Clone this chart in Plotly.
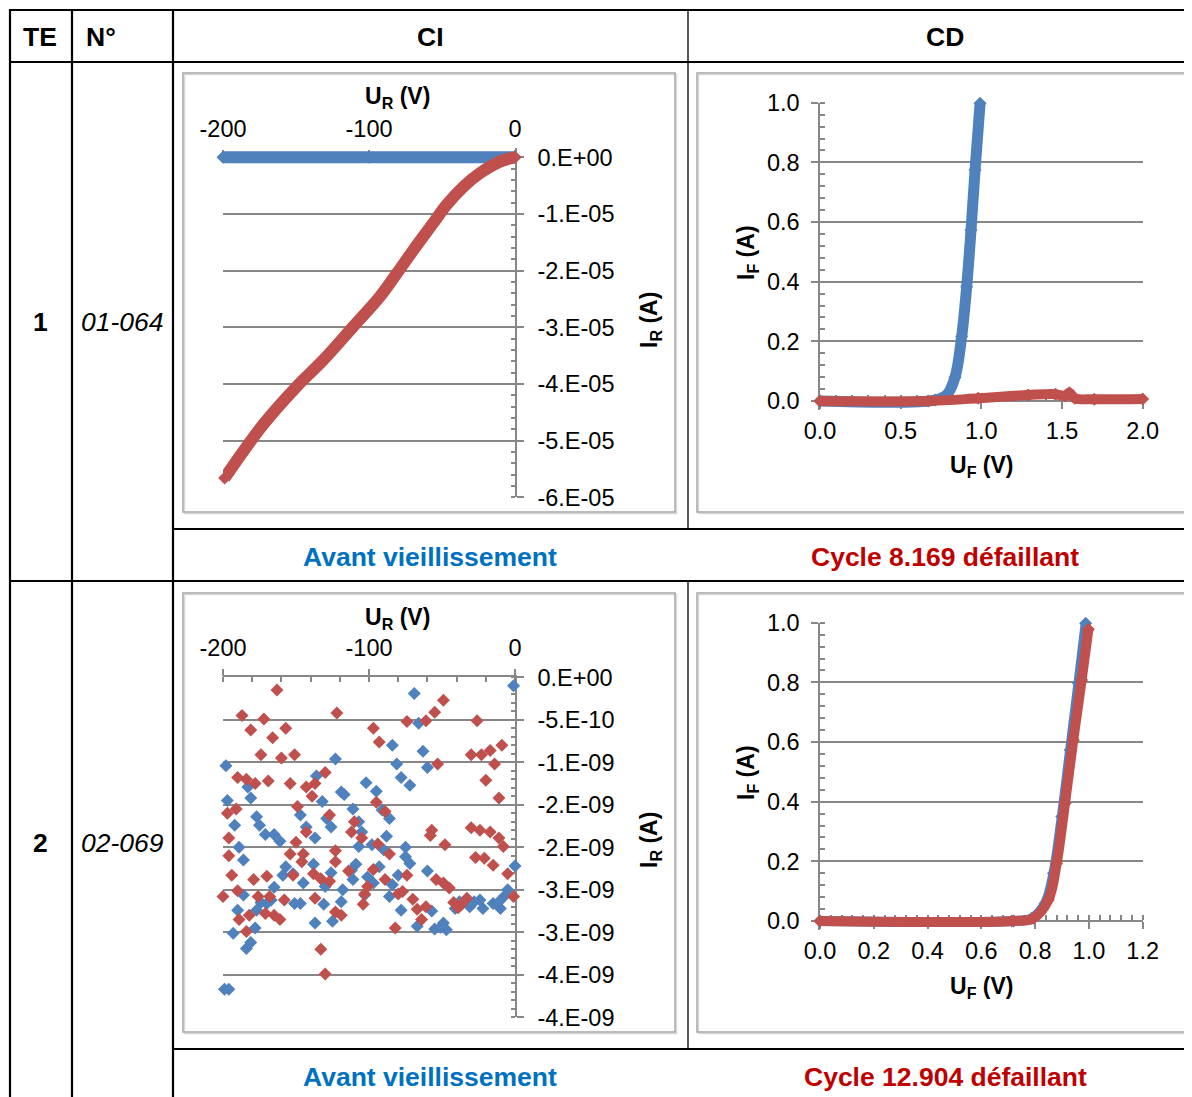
import numpy as np
import plotly.graph_objects as go

# page offset (body margin) compensation: the figure is placed 8 px from the window edge
OFF = 8
W, H = 1192 - OFF, 1097 - OFF
FONT = "Arial, Liberation Sans, sans-serif"
BLUE = "#4F81BD"
RED = "#C0504D"
GRID = "#878787"
CAP_BLUE = "#0070C0"
CAP_RED = "#C00000"

# ---------------- data ----------------
# TE 1 / 01-064, CI (reverse characteristic), current in microamps
ci1_before_u = [-200, -100, 0]
ci1_before_i_uA = [0, 0, 0]
ci1_after_u = [0, -10.3, -24, -35.4, -46.9, -56, -69.7, -81, -92.6, -110.9, -131.4, -149.7, -172.6, -198.9]
ci1_after_i_uA = [0, -0.76, -2.8, -5.2, -8.4, -11.6, -16.4, -20.5, -24.6, -29.9, -35.8, -40.5, -47.2, -56.6]
ci1_ytick_uA = [0, -10, -20, -30, -40, -50, -60]
ci1_ytick_text = ["0.E+00", "-1.E-05", "-2.E-05", "-3.E-05", "-4.E-05", "-5.E-05", "-6.E-05"]
ci_xtick_vals = [-200, -100, 0]
ci_xtick_text = ["-200", "-100", "0"]

# TE 1, CD (forward characteristic)
cd1_before_u = [0, 0.713, 0.785, 0.837, 0.878, 0.909, 0.936, 0.961, 0.992]
cd1_before_i = [0, 0.003, 0.02, 0.08, 0.216, 0.383, 0.573, 0.774, 0.998]
cd1_after_u = [0, 0.67, 0.98, 1.29, 1.46, 1.52, 1.545, 1.58, 1.70, 2.0]
cd1_after_i = [0, 0, 0.009, 0.02, 0.023, 0.017, 0.028, 0.009, 0.006, 0.007]

# TE 2 / 02-069, CI, current in nanoamps
ci2_before_u = [-1, -69, -66, -84, -63, -123, -198, -81, -60, -78, -72, -102, -95, -119, -117,
                -136, -183, -181, -132, -197, -111, -91, -86, -147, -177, -192, -129, -126, -143,
                -175, -171, -165, -161, -107, -105, -107, -98, -88, -75, -137, -189, -186, -90,
                -75, -72, -157, -159, -138, -109, -112, -126, -152, -93, -101, -80, -60, 0, -145,
                -111, -84, -165, -118, -130, -97, -103, -86, -5, -7, -186, -167, -170, -151, -147,
                -131, -119, -190, -177, -174, -78, -57, -41, -38, -31, -24, -22, -15, -10, -11,
                -39, -28, -125, -137, -67, -55, -49, -47, -51, -178, -193, -184, -181, -199, -196]
ci2_before_i_nA = [-0.10, -0.19, -0.54, -0.80, -0.87, -0.96, -1.04, -1.02, -1.06, -1.18, -1.27,
                   -1.24, -1.34, -1.35, -1.38, -1.16, -1.29, -1.42, -1.46, -1.45, -1.55, -1.56,
                   -1.66, -1.62, -1.64, -1.74, -1.66, -1.76, -1.76, -1.74, -1.85, -1.85, -1.93,
                   -1.70, -1.82, -1.99, -1.97, -1.87, -2.00, -1.89, -2.00, -2.15, -2.03, -2.11,
                   -2.19, -2.23, -2.33, -2.20, -2.20, -2.27, -2.30, -2.31, -2.23, -2.35, -2.33,
                   -2.28, -2.22, -2.42, -2.38, -2.44, -2.47, -2.50, -2.46, -2.42, -2.56, -2.58,
                   -2.50, -2.57, -2.56, -2.62, -2.66, -2.66, -2.66, -2.67, -2.64, -2.74, -2.74,
                   -2.65, -2.74, -2.75, -2.72, -2.64, -2.70, -2.62, -2.72, -2.66, -2.72, -2.64,
                   -2.68, -2.64, -2.87, -2.89, -2.93, -2.96, -2.89, -2.97, -2.94, -2.95, -3.01,
                   -3.19, -3.12, -3.67, -3.67]
ci2_after_u = [-163, -49, -122, -55, -61, -74, -187, -172, -181, -157, -97, -26, -166, -93, -9,
               -174, -160, -151, -30, -23, -17, -53, -14, -190, -184, -178, -169, -154, -143,
               -137, -130, -139, -20, -11, -95, -89, -197, -191, -149, -127, -110, -57, -58, -30,
               -24, -17, -11, -8, -112, -105, -143, -150, -196, -94, -48, -123, -145, -154, -196,
               -86, -27, -21, -15, -123, -146, -97, -114, -138, -152, -194, -170, -74, -5, -179,
               -133, -127, -89, -54, -49, -45, -101, -190, -103, -200, -176, -168, -158, -137,
               -80, -77, -70, -104, -42, -39, -33, -37, -1, -171, -165, -161, -189, -182, -123,
               -119, -184, -67, -61, -64, -82, -133, -130]
ci2_after_i_nA = [-0.15, -0.27, -0.42, -0.41, -0.51, -0.52, -0.45, -0.49, -0.62, -0.60, -0.60,
                  -0.51, -0.71, -0.76, -0.80, -0.91, -0.95, -0.91, -0.91, -0.91, -0.86, -1.02,
                  -1.02, -1.18, -1.20, -1.25, -1.22, -1.25, -1.29, -1.25, -1.12, -1.40, -1.21,
                  -1.42, -1.47, -1.58, -1.60, -1.55, -1.52, -1.62, -1.70, -1.80, -1.86, -1.77,
                  -1.80, -1.82, -1.89, -1.99, -1.82, -1.89, -1.82, -1.94, -1.89, -1.96, -1.97,
                  -2.04, -2.08, -2.08, -2.10, -2.08, -2.12, -2.13, -2.21, -2.17, -2.17, -2.26,
                  -2.28, -2.31, -2.33, -2.33, -2.34, -2.33, -2.31, -2.38, -2.37, -2.40, -2.38,
                  -2.38, -2.42, -2.48, -2.46, -2.51, -2.55, -2.58, -2.58, -2.58, -2.62, -2.60,
                  -2.55, -2.52, -2.61, -2.67, -2.65, -2.71, -2.60, -2.68, -2.58, -2.78, -2.80,
                  -2.85, -2.85, -2.80, -2.76, -2.80, -2.99, -2.73, -2.70, -2.85, -2.95, -3.20,
                  -3.49]
ci2_ytick_nA = [0, -0.5, -1.0, -1.5, -2.0, -2.5, -3.0, -3.5, -4.0]
ci2_ytick_text = ["0.E+00", "-5.E-10", "-1.E-09", "-2.E-09", "-2.E-09", "-3.E-09", "-3.E-09",
                  "-4.E-09", "-4.E-09"]

# TE 2, CD
cd2_before_u = [0, 0.713, 0.787, 0.837, 0.868, 0.899, 0.93, 0.961, 0.988]
cd2_before_i = [0, 0, 0.009, 0.059, 0.16, 0.35, 0.573, 0.797, 0.998]
cd2_after_u = [0, 0.72, 0.793, 0.849, 0.88, 0.911, 0.942, 0.973, 0.998]
cd2_after_i = [0, 0, 0.009, 0.07, 0.193, 0.394, 0.607, 0.808, 0.978]

# table text
header_labels = ["TE", "N°", "CI", "CD"]
te_numbers = ["1", "2"]
te_refs = ["01-064", "02-069"]
captions_before = ["Avant vieillissement", "Avant vieillissement"]
captions_after = ["Cycle 8.169 défaillant", "Cycle 12.904 défaillant"]

# ---------------- helpers (window pixel -> paper) ----------------
def px(p):
    return (p - OFF) / W


def py(p):
    return 1 - (p - OFF) / H


def ygeom(v_top, p_top, v_bot, p_bot, pad_top=0, pad_bot=0):
    s = (v_top - v_bot) / (p_bot - p_top)
    rng = [v_bot - pad_bot * s, v_top + pad_top * s]
    dom = [py(p_bot + pad_bot), py(p_top - pad_top)]
    return rng, dom


TICK_SIZE = 23.5
tickfont = dict(family=FONT, size=TICK_SIZE, color="black")
base_axis = dict(showline=True, linecolor=GRID, linewidth=1.5, zeroline=False,
                 tickfont=tickfont, ticks="outside", ticklen=7, tickcolor=GRID, tickwidth=1.5,
                 layer="below traces", fixedrange=True, automargin=False)


def curve(x, y, color, xa, ya, width=10):
    return go.Scatter(x=x, y=y, mode="lines+markers",
                      line=dict(color=color, width=width, shape="spline", smoothing=1.0),
                      marker=dict(symbol="diamond", size=10, color=color),
                      cliponaxis=False, xaxis=xa, yaxis=ya, hoverinfo="skip", showlegend=False)


def dots(x, y, color, xa, ya):
    return go.Scatter(x=x, y=y, mode="markers",
                      marker=dict(symbol="diamond", size=10, color=color, line=dict(width=0)),
                      cliponaxis=False, xaxis=xa, yaxis=ya, hoverinfo="skip", showlegend=False)


fig = go.Figure()

# CI1
ci1_i_before = np.array(ci1_before_i_uA) * 1e-6
ci1_i_after = np.array(ci1_after_i_uA) * 1e-6
fig.add_trace(curve(ci1_before_u, ci1_i_before, BLUE, "x", "y", width=12))
fig.add_trace(curve(ci1_after_u, ci1_i_after, RED, "x", "y", width=12))
# CD1
fig.add_trace(curve(cd1_before_u, cd1_before_i, BLUE, "x2", "y2", width=11))
fig.add_trace(curve(cd1_after_u, cd1_after_i, RED, "x2", "y2"))
# CI2
fig.add_trace(dots(ci2_before_u, np.array(ci2_before_i_nA) * 1e-9, BLUE, "x3", "y3"))
fig.add_trace(dots(ci2_after_u, np.array(ci2_after_i_nA) * 1e-9, RED, "x3", "y3"))
# CD2
fig.add_trace(curve(cd2_before_u, cd2_before_i, BLUE, "x4", "y4"))
fig.add_trace(curve(cd2_after_u, cd2_after_i, RED, "x4", "y4"))

ci_xdom = [px(223), px(515)]
cd_xdom = [px(820), px(1142.7)]

ci1_yr, ci1_yd = ygeom(0, 157.3, -60e-6, 497.3, pad_top=9)
cd1_yr, cd1_yd = ygeom(1.0, 102.7, 0, 401, pad_bot=9)
ci2_yr, ci2_yd = ygeom(0, 677.3, -4e-9, 1017.3)
cd2_yr, cd2_yd = ygeom(1.0, 622.7, 0, 921, pad_bot=9)


def ci_x(anchor, pos=None):
    d = dict(base_axis, domain=ci_xdom, range=[-200, 0], side="top", tickmode="array",
             tickvals=ci_xtick_vals, ticktext=ci_xtick_text, showgrid=False, ticklabelstandoff=3,
             minor=dict(tickmode="linear", tick0=0, dtick=20, ticks="inside", ticklen=5,
                        tickcolor=GRID, showgrid=False))
    if pos is None:
        d["anchor"] = anchor
    else:
        d["anchor"] = "free"
        d["position"] = pos
    return d


def ci_y(anchor, rng, dom, vals, text, minor_dt):
    return dict(base_axis, anchor=anchor, domain=dom, range=rng, side="right",
                tickmode="array", tickvals=vals, ticktext=text, showgrid=True,
                gridcolor=GRID, gridwidth=1.5, ticklabelstandoff=9,
                minor=dict(tickmode="linear", tick0=0, dtick=minor_dt, ticks="inside",
                           ticklen=4, tickcolor=GRID, showgrid=False))


def cd_x(pos, rmax, dt, minor_dt):
    return dict(base_axis, anchor="free", position=pos, domain=cd_xdom, range=[0, rmax],
                side="bottom", tickmode="linear", tick0=0, dtick=dt, tickformat=".1f",
                showgrid=False, ticklabelstandoff=2,
                minor=dict(tick0=0, dtick=minor_dt, ticks="inside", ticklen=5, tickcolor=GRID,
                           showgrid=False))


def cd_y(anchor, rng, dom):
    return dict(base_axis, anchor=anchor, domain=dom, range=rng, side="left",
                tickmode="linear", tick0=0, dtick=0.2, tickformat=".1f", showgrid=True,
                gridcolor=GRID, gridwidth=1.5, ticklabelstandoff=7,
                minor=dict(tick0=0, dtick=0.04, ticks="inside", ticklen=5, tickcolor=GRID,
                           showgrid=False))


fig.update_layout(
    width=W, height=H, margin=dict(l=0, r=0, t=0, b=0, pad=0, autoexpand=False),
    autosize=False,
    paper_bgcolor="white", plot_bgcolor="rgba(0,0,0,0)", showlegend=False,
    font=dict(family=FONT, color="black"),
    xaxis=ci_x("y", pos=py(157.3)),
    yaxis=ci_y("x", ci1_yr, ci1_yd, list(np.array(ci1_ytick_uA) * 1e-6), ci1_ytick_text, 2e-6),
    xaxis2=cd_x(py(401), 2.0, 0.5, 0.1),
    yaxis2=cd_y("x2", cd1_yr, cd1_yd),
    xaxis3=ci_x("y3"),
    yaxis3=ci_y("x3", ci2_yr, ci2_yd, list(np.array(ci2_ytick_nA) * 1e-9), ci2_ytick_text, 1e-10),
    xaxis4=cd_x(py(921), 1.2, 0.2, 0.04),
    yaxis4=cd_y("x4", cd2_yr, cd2_yd),
)

# ---------------- table shapes ----------------
shapes = []


def hline(y, x0, x1, w=2.2):
    shapes.append(dict(type="line", xref="paper", yref="paper", x0=px(x0), x1=px(x1),
                       y0=py(y), y1=py(y), line=dict(color="black", width=w)))


def vline(x, y0, y1, w=2.2):
    shapes.append(dict(type="line", xref="paper", yref="paper", x0=px(x), x1=px(x),
                       y0=py(y0), y1=py(y1), line=dict(color="black", width=w)))


hline(10, 9, 1192)
hline(62, 9, 1192)
hline(529, 173, 1192)
hline(581, 9, 1192)
hline(1049, 173, 1192)
vline(10, 9, 1097)
vline(72, 9, 1097)
vline(173, 9, 1097)
vline(688, 9, 529, w=1.3)
vline(688, 581, 1049, w=1.3)

for (x0, y0, x1, y1) in [(183, 73, 675, 512), (697, 73, 1189, 512),
                         (183, 593, 675, 1032), (697, 593, 1189, 1032)]:
    shapes.append(dict(type="rect", xref="paper", yref="paper", x0=px(x0 + 1.5), x1=px(x1 + 1.5),
                       y0=py(y0 + 1.5), y1=py(y1 + 1.5), line=dict(color="#D9D9D9", width=1.5),
                       layer="below"))
    shapes.append(dict(type="rect", xref="paper", yref="paper", x0=px(x0), x1=px(x1),
                       y0=py(y0), y1=py(y1), line=dict(color="#A6A6A6", width=1.5),
                       layer="below"))

fig.update_layout(shapes=shapes)

# ---------------- annotations ----------------
ann = []


def text(x, y, s, size=24, color="black", angle=0):
    ann.append(dict(x=px(x), y=py(y), xref="paper", yref="paper", text=s, showarrow=False,
                    xanchor="center", yanchor="middle", textangle=angle,
                    font=dict(family=FONT, size=size, color=color)))


TABLE_SIZE = 26.5
for lab, xc in zip(header_labels, [40, 101, 430, 945]):
    text(xc, 37, "<b>" + lab + "</b>", size=TABLE_SIZE)
for num, ref, yc in zip(te_numbers, te_refs, [322, 843]):
    text(40, yc, "<b>" + num + "</b>", size=TABLE_SIZE)
    text(122, yc, "<i>" + ref + "</i>", size=TABLE_SIZE)
for cb, ca, yc in zip(captions_before, captions_after, [557, 1077]):
    text(430, yc, "<b>" + cb + "</b>", size=TABLE_SIZE, color=CAP_BLUE)
    text(945, yc, "<b>" + ca + "</b>", size=TABLE_SIZE, color=CAP_RED)

# axis titles
for dy in [0, 520]:
    text(397, 98 + dy, "<b>U<sub>R</sub> (V)</b>", size=23)
    text(650, 320 + dy, "<b>I<sub>R</sub> (A)</b>", size=23, angle=-90)
    text(747, 253 + dy, "<b>I<sub>F</sub> (A)</b>", size=23, angle=-90)
    text(982, 467 + dy, "<b>U<sub>F</sub> (V)</b>", size=23)

fig.update_layout(annotations=ann)

fig.write_html("out.html")
